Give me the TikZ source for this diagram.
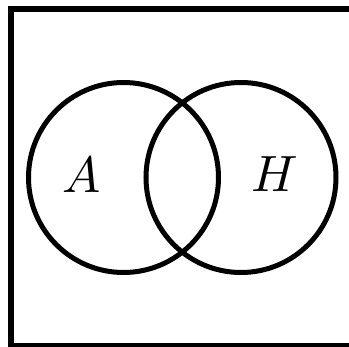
\documentclass[tikz,border=0pt]{standalone}
\usepackage{graphicx}
\begin{document}
\begin{tikzpicture}[x=1pt,y=1pt,
  setcirc/.style={draw=black,line width=5pt,circle,minimum size=190pt,inner sep=0pt},
  setlabel/.style={inner sep=0pt,anchor=base}]
\useasboundingbox (0,0) rectangle (349,-347);
\clip (0,0) rectangle (349,-347);
\draw[line width=6pt] (11,-9) rectangle (365,-346);
\node[setcirc] (a) at (123.5,-177.5) {};
\node[setcirc] (h) at (241,-177.5) {};
\node[setlabel] (la) at (82,-192.5) {\scalebox{5.1}{$A$}};
\node[setlabel] (lh) at (275,-192) {\scalebox{5.1}{$H$}};
\end{tikzpicture}
\end{document}
